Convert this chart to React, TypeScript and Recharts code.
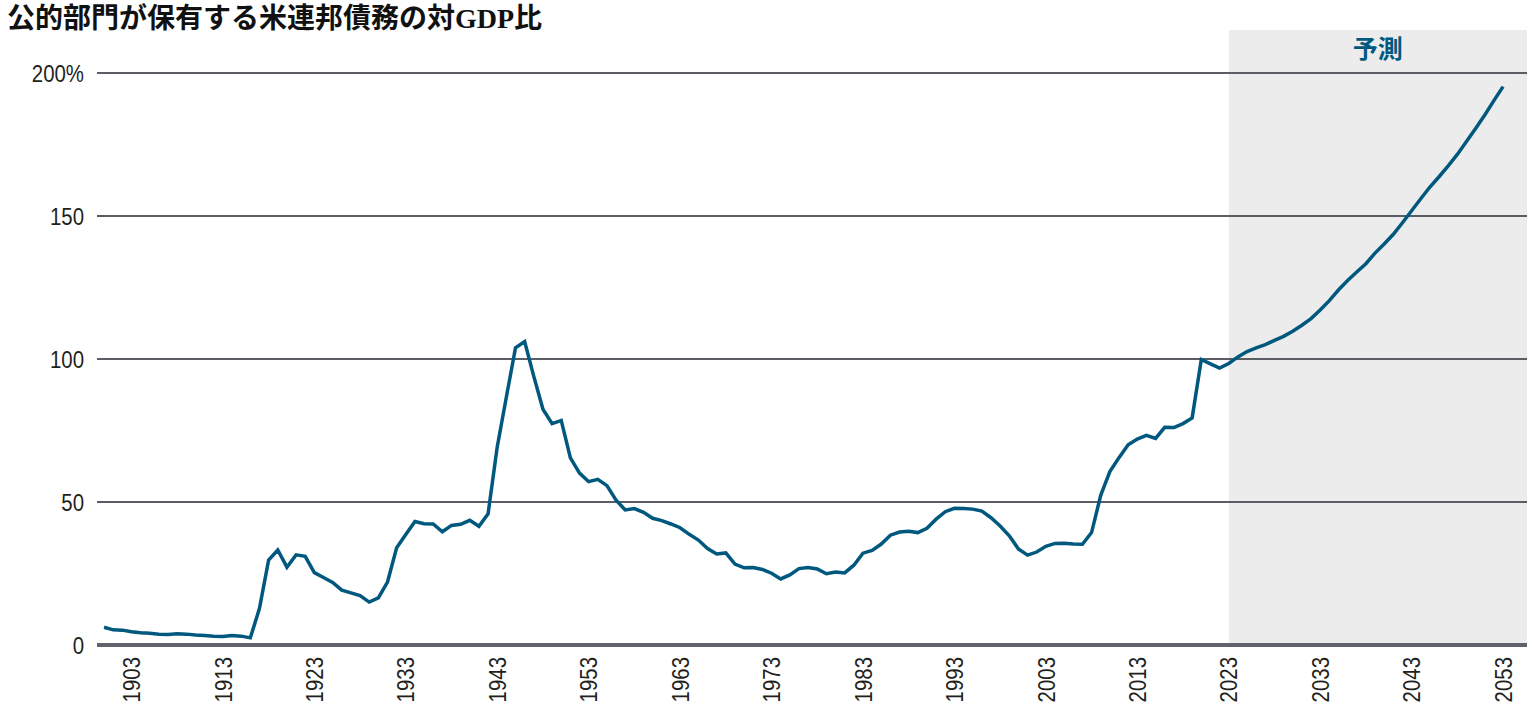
import React from 'react';
import { LineChart, Line, XAxis, YAxis, ReferenceArea, ReferenceLine } from 'recharts';

const startYear = 1900;

// Historical federal debt held by the public, % of GDP (1900-2022)
const historicalRatio = [
  6.2, 5.3, 5.2, 4.6, 4.3, 4.1, 3.8, 3.7, 3.9, 3.8,
  3.5, 3.3, 3.1, 3.0, 3.3, 3.1, 2.5, 12.8, 29.7, 33.2,
  27.2, 31.5, 31.0, 25.3, 23.6, 21.9, 19.2, 18.2, 17.3, 15.0,
  16.5, 22.0, 34.0, 38.6, 43.2, 42.4, 42.3, 39.6, 41.8, 42.2,
  43.6, 41.5, 45.9, 69.2, 86.7, 103.9, 106.1, 93.9, 82.4, 77.4,
  78.5, 65.4, 60.1, 57.1, 57.9, 55.7, 50.6, 47.2, 47.7, 46.4,
  44.3, 43.5, 42.3, 41.0, 38.7, 36.7, 33.7, 31.8, 32.2, 28.3,
  27.0, 27.1, 26.4, 25.1, 23.1, 24.5, 26.7, 27.1, 26.6, 24.9,
  25.5, 25.2, 27.9, 32.1, 33.1, 35.3, 38.4, 39.5, 39.8, 39.3,
  40.8, 44.0, 46.6, 47.8, 47.7, 47.5, 46.8, 44.5, 41.6, 38.2,
  33.6, 31.4, 32.5, 34.5, 35.5, 35.6, 35.3, 35.2, 39.3, 52.3,
  60.6, 65.5, 70.0, 72.0, 73.3, 72.2, 76.1, 76.0, 77.4, 79.4,
  99.8, 98.3, 96.8,
];

// Projection (2023-2053)
const forecastRatio = [
  98.4, 100.7, 102.6, 103.9, 105.0, 106.5, 107.9, 109.7, 111.8, 114.1,
  117.1, 120.4, 124.1, 127.4, 130.4, 133.3, 137.0, 140.2, 143.6, 147.6,
  151.8, 156.0, 160.1, 163.7, 167.5, 171.5, 176.0, 180.6, 185.3, 190.3,
  195.2,
];

const forecastStart = 2023;
const xTicks = [1903, 1913, 1923, 1933, 1943, 1953, 1963, 1973, 1983, 1993, 2003, 2013, 2023, 2033, 2043, 2053];
const yTicks = [0, 50, 100, 150, 200];
const gridValues = [50, 100, 150, 200];

const allRatio = [...historicalRatio, ...forecastRatio];
const data = allRatio.map((v, i) => ({ year: startYear + i, ratio: v }));

const X_MIN = 1899.23;
const X_MAX = 2055.62;
const Y_MAX = 215;

const tickFont = '"Liberation Sans", Arial, sans-serif';
const tickColor = '#231f20';
const gridColor = '#5a5d64';

const XTick = (props: any) => {
  const { x, y, payload } = props;
  return (
    <text
      transform={`translate(${x}, ${y}) rotate(-90) scale(0.85, 1)`}
      x={0}
      y={0}
      textAnchor="end"
      dy="0.36em"
      fill={tickColor}
      fontSize={24}
      fontFamily={tickFont}
    >
      {payload.value}
    </text>
  );
};

const YTick = (props: any) => {
  const { x, y, payload } = props;
  const label = payload.value === 200 ? '200%' : String(payload.value);
  return (
    <text
      transform={`translate(${x}, ${y}) scale(0.85, 1)`}
      x={0}
      y={0}
      textAnchor="end"
      dy="0.36em"
      fill={tickColor}
      fontSize={24}
      fontFamily={tickFont}
    >
      {label}
    </text>
  );
};

export default function App() {
  return (
    <div style={{ position: 'absolute', left: 0, top: 0, width: 1532, height: 720, background: '#fff' }}>
      <div
        style={{
          position: 'absolute',
          left: 7,
          top: 1,
          fontFamily: '"Liberation Serif", "Noto Sans CJK JP", serif',
          fontWeight: 700,
          fontSize: 28,
          lineHeight: '36px',
          color: '#111',
          whiteSpace: 'nowrap',
        }}
      >
        公的部門が保有する米連邦債務の対GDP比
      </div>
      <LineChart width={1532} height={720} data={data} margin={{ top: 30, right: 5, bottom: 0, left: 0 }}>
        <ReferenceArea
          x1={forecastStart}
          x2={X_MAX}
          y1={0}
          y2={Y_MAX}
          fill="#ececec"
          fillOpacity={1}
          stroke="none"
          label={{
            value: '予測',
            position: 'insideTop',
            offset: 10,
            fill: '#005a80',
            fontSize: 25,
            fontWeight: 700,
            fontFamily: '"Noto Sans CJK JP", sans-serif',
          }}
        />
        {gridValues.map((g) => (
          <ReferenceLine key={g} y={g} stroke={gridColor} strokeWidth={2} />
        ))}
        <XAxis
          dataKey="year"
          type="number"
          domain={[X_MIN, X_MAX]}
          ticks={xTicks}
          interval={0}
          allowDataOverflow
          tickLine={false}
          tickSize={0}
          tickMargin={12}
          axisLine={{ stroke: '#5f636b', strokeWidth: 4 }}
          height={75}
          tick={<XTick />}
        />
        <YAxis
          type="number"
          domain={[0, Y_MAX]}
          ticks={yTicks}
          interval={0}
          axisLine={false}
          tickLine={false}
          tickSize={0}
          tickMargin={13}
          width={97}
          tick={<YTick />}
        />
        <Line
          type="linear"
          dataKey="ratio"
          stroke="#00587e"
          strokeWidth={3.5}
          dot={false}
          isAnimationActive={false}
        />
      </LineChart>
    </div>
  );
}
